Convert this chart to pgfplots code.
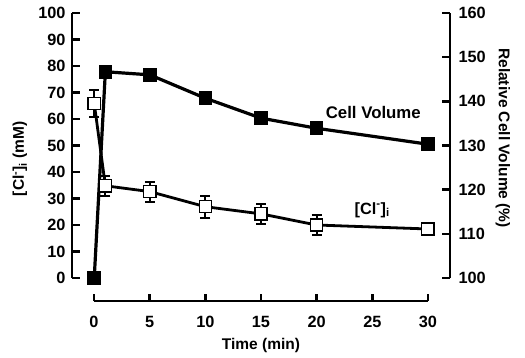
\documentclass[border=0pt]{standalone}
\usepackage{fontspec}
\setmainfont{Liberation Sans}
\usepackage{pgfplots}
\pgfplotsset{compat=1.18}
\begin{document}
\begin{tikzpicture}[font=\fontsize{15.5}{18}\selectfont\bfseries]
\useasboundingbox (0,0) rectangle (525pt,357pt);
\pgfplotsset{every axis/.append style={
  /pgf/number format/assume math mode=true,
  scale only axis, tick align=inside, major tick length=8pt,
  every tick/.style={line width=2.6pt, black},
  axis line style={line width=2.6pt, black},
  tick label style={font=\fontsize{16.3}{19}\selectfont\bfseries},
  label style={font=\fontsize{15.5}{18}\selectfont\bfseries},
}}
% right axis: cell volume
\begin{axis}[at={(72pt,79pt)}, anchor=south west, width=378pt, height=265pt,
  xmin=-2, xmax=32, ymin=100, ymax=160,
  axis y line*=right, hide x axis, ytick={100,110,...,160},
  yticklabel style={xshift=5pt},
  ylabel={Relative Cell Volume (\%)},
  ylabel style={at={(rel axis cs:1.140,0.528)}, anchor=center, rotate=180},
  clip=false]
\addplot+[black, line width=3.2pt, mark=square*, mark size=6.3pt,
  mark options={solid, fill=black, line width=1pt},
  error bars/.cd, y dir=both, y explicit,
  error bar style={line width=2pt, black},
  error mark options={rotate=90, mark size=5pt, line width=2pt, black}]
coordinates {
 (0,100) +- (0,0.8)
 (1,146.7) +- (0,1.2)
 (5,146.0) +- (0,1.0)
 (10,140.7) +- (0,0.8)
 (15,136.2) +- (0,0.8)
 (20,133.9) +- (0,0.8)
 (30,130.3) +- (0,0.8)
};
\end{axis}
% left axis: chloride
\begin{axis}[at={(72pt,79pt)}, anchor=south west, width=378pt, height=265pt,
  xmin=-2, xmax=32, ymin=0, ymax=100,
  axis y line*=left, hide x axis, ytick={0,10,...,100},
  yticklabel style={xshift=-3pt},
  ylabel={[Cl\textsuperscript{-}]\textsubscript{i} (mM)},
  ylabel style={at={(rel axis cs:-0.1376,0.45)}, anchor=center},
  clip=false]
\addplot+[black, line width=2.8pt, mark=square*, mark size=6.1pt,
  mark options={solid, fill=white, draw=black, line width=1.3pt},
  error bars/.cd, y dir=both, y explicit,
  error bar style={line width=2pt, black},
  error mark options={rotate=90, mark size=5pt, line width=2pt, black}]
coordinates {
 (0,65.9) +- (0,5.1)
 (1,34.8) +- (0,3.8)
 (5,32.6) +- (0,3.8)
 (10,26.9) +- (0,4.2)
 (15,24.2) +- (0,3.8)
 (20,20.0) +- (0,3.7)
 (30,18.5) +- (0,0.5)
};
\node[font=\fontsize{16.8}{19}\selectfont\bfseries] at (axis cs:25.1,62.6) {Cell Volume};
\node[font=\fontsize{16.3}{19}\selectfont\bfseries] at (axis cs:25.0,25.7) {[Cl\textsuperscript{-}]\textsubscript{i}};
\end{axis}
% x axis
\begin{axis}[at={(94pt,56pt)}, anchor=south west, width=334pt, height=10pt,
  xmin=0, xmax=30, ymin=0, ymax=1,
  axis x line*=bottom, hide y axis, xtick={0,5,...,30},
  major tick length=7pt,
  xticklabel style={anchor=center, yshift=-21pt},
  xlabel={Time (min)},
  xlabel style={at={(rel axis cs:0.5,0)}, anchor=center, yshift=-44pt}]
\end{axis}
\end{tikzpicture}
\end{document}
